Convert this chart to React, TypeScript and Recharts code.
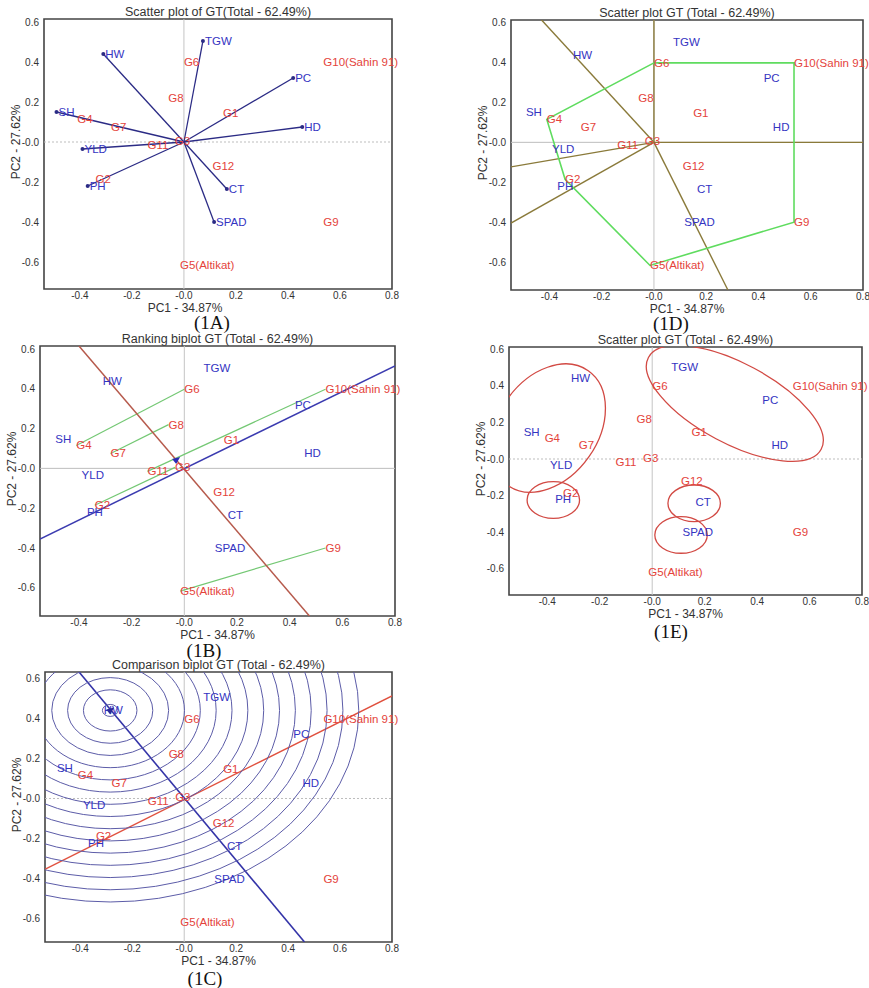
import { ScatterChart, Scatter, XAxis, YAxis, ReferenceLine, ReferenceArea, ReferenceDot } from "recharts";

const FONT = "'Liberation Sans', Arial, sans-serif";

// genotype scores (PC1, PC2)
const genotypes = ["G1", "G2", "G3", "G4", "G5(Altikat)", "G6", "G7", "G8", "G9", "G10(Sahin 91)", "G11", "G12"];
const genoPC1 = [0.15, -0.34, -0.035, -0.41, -0.015, 0.0, -0.28, -0.06, 0.536, 0.536, -0.14, 0.11];
const genoPC2 = [0.145, -0.185, 0.005, 0.115, -0.617, 0.398, 0.075, 0.22, -0.4, 0.398, -0.015, -0.12];

// trait scores (PC1, PC2)
const traits = ["TGW", "HW", "PC", "SH", "HD", "YLD", "PH", "CT", "SPAD"];
const traitPC1 = [0.073, -0.31, 0.42, -0.49, 0.455, -0.39, -0.37, 0.165, 0.116];
const traitPC2 = [0.505, 0.44, 0.32, 0.15, 0.075, -0.035, -0.22, -0.235, -0.4];

const xTicks = [-0.4, -0.2, 0, 0.2, 0.4, 0.6, 0.8];
const yTicks = [-0.6, -0.4, -0.2, 0, 0.2, 0.4, 0.6];

// 1D: polygon vertices and sector ray ends
const hullOrder = ["G6", "G10(Sahin 91)", "G9", "G5(Altikat)", "G2", "G4", "G6"];
const sectorRayX = [0, 0.8, 0.283, -0.547, -0.547, -0.43];
const sectorRayY = [0.613, 0, -0.74, -0.405, -0.123, 0.613];

// 1B: ranking biplot
const rankAxis = [{ x: -0.548, y: -0.355 }, { x: 0.8, y: 0.515 }];
const rankOrdinate = [{ x: -0.4, y: 0.615 }, { x: 0.475, y: -0.742 }];
const rankPairs = [["G4", "G6"], ["G7", "G8"], ["G2", "G3"], ["G11", "G10(Sahin 91)"], ["G5(Altikat)", "G9"]];
const rankArrow = [{ x: -0.031, y: 0.042 }];

// 1C: comparison biplot
const compAxis = [{ x: -0.537, y: -0.354 }, { x: 0.8, y: 0.513 }];
const compOrdinate = [{ x: -0.405, y: 0.632 }, { x: 0.463, y: -0.717 }];
const idealPoint = [{ x: -0.285, y: 0.44 }];
const ringRadii = [0.03, 0.103, 0.164, 0.225, 0.286, 0.347, 0.408, 0.469, 0.53, 0.591, 0.652, 0.713, 0.774, 0.835, 0.896, 0.957];

// 1E: trait groups
const groupX = [-0.397, 0.315, -0.377, 0.16, 0.11];
const groupY = [0.169, 0.304, -0.224, -0.242, -0.415];
const groupA = [0.267, 0.373, 0.1, 0.1, 0.1];
const groupB = [0.273, 0.219, 0.1, 0.1, 0.1];
const groupAngle = [-55, 28, 0, 0, 0];

const RED = "#e4433b";
const BLUE = "#3434c2";
const NAVY = "#2b2b85";

const genoData = genotypes.map((name, i) => ({ name, x: genoPC1[i], y: genoPC2[i] }));
const traitData = traits.map((name, i) => ({ name, x: traitPC1[i], y: traitPC2[i] }));
const geno = (n: string) => genoData.find((g) => g.name === n)!;

type Frame = { l: number; t: number; r: number; b: number; xd: [number, number]; yd: [number, number] };
const frames: Record<string, Frame> = {
  A: { l: 44, t: 19, r: 392, b: 289, xd: [-0.538, 0.8], yd: [-0.735, 0.615] },
  D: { l: 511, t: 20, r: 863, b: 290, xd: [-0.547, 0.8], yd: [-0.74, 0.613] },
  B: { l: 40, t: 346, r: 395, b: 616, xd: [-0.548, 0.8], yd: [-0.742, 0.615] },
  E: { l: 509, t: 347, r: 862, b: 595, xd: [-0.546, 0.8], yd: [-0.743, 0.612] },
  C: { l: 45, t: 672, r: 392, b: 942, xd: [-0.536, 0.8], yd: [-0.717, 0.632] },
};

const ML = 40;
const MT = 20;
const MR = 14;
const XH = 30;

const fmt = (v: number) => (Math.abs(v) < 1e-9 ? "-0.0" : v.toFixed(1));

const labelShape = (color: string, dx = 0, dot = false) => (p: any) => (
  <g>
    {dot && <circle cx={p.cx} cy={p.cy} r={2} fill={NAVY} />}
    <text x={p.cx + dx} y={p.cy} fill={color} fontSize={11.5} fontFamily={FONT} dominantBaseline="central">
      {p.payload.name}
    </text>
  </g>
);

const arrowShape = (color: string) => (p: any) => (
  <polygon points={`${p.cx + 4},${p.cy - 3} ${p.cx - 4},${p.cy - 1} ${p.cx},${p.cy + 4}`} fill={color} />
);

// ellipse clipped to the plot frame of its panel (clip on the unrotated group)
const ellipseShape = (id: string, f: Frame, rx: number, ry: number, angle: number, stroke: string, sw: number) => (p: any) => (
  <g clipPath={`url(#${id})`}>
    <defs>
      <clipPath id={id}>
        <rect x={ML} y={MT} width={f.r - f.l} height={f.b - f.t} />
      </clipPath>
    </defs>
    <ellipse
      cx={p.cx}
      cy={p.cy}
      rx={rx}
      ry={ry}
      transform={`rotate(${angle} ${p.cx} ${p.cy})`}
      fill="none"
      stroke={stroke}
      strokeWidth={sw}
    />
  </g>
);

function labelLayers(traitDx = 0, traitDot = false) {
  return [
    <Scatter key="geno" data={genoData} shape={labelShape(RED)} isAnimationActive={false} />,
    <Scatter key="trait" data={traitData} shape={labelShape(BLUE, traitDx, traitDot)} isAnimationActive={false} />,
  ];
}

function Panel({ f, title, capX, capY, caption, xShift = 0, hDash = true, children }: any) {
  const w = f.r - f.l;
  const h = f.b - f.t;
  const xTitle = (p: any) => {
    const vb = p.viewBox;
    return (
      <text x={vb.x + vb.width / 2 + xShift} y={vb.y + 23} textAnchor="middle" fontSize={12} fill="#333" fontFamily={FONT}>
        PC1 - 34.87%
      </text>
    );
  };
  const yTitle = (p: any) => {
    const vb = p.viewBox;
    const cx = vb.x + vb.width - 28;
    const cy = vb.y + vb.height / 2 - 12;
    return (
      <text x={cx} y={cy} transform={`rotate(-90 ${cx} ${cy})`} textAnchor="middle" dominantBaseline="central" fontSize={12} fill="#333" fontFamily={FONT}>
        PC2 - 27.62%
      </text>
    );
  };
  return (
    <>
      <div style={{ position: "absolute", left: f.l - 40, width: w + 80, top: f.t - 14, textAlign: "center", font: `12.5px ${FONT}`, lineHeight: "14px", color: "#333", whiteSpace: "nowrap" }}>
        {title}
      </div>
      <div style={{ position: "absolute", left: f.l - ML, top: f.t - MT }}>
        <ScatterChart width={w + ML + MR} height={h + MT + XH} margin={{ top: MT, right: MR, bottom: 0, left: 0 }}>
          <XAxis
            type="number"
            dataKey="x"
            domain={f.xd}
            ticks={xTicks}
            height={XH}
            tickFormatter={fmt}
            tick={{ fontSize: 10, fill: "#333", fontFamily: FONT }}
            tickLine={false}
            axisLine={false}
            tickSize={1}
            label={xTitle}
          />
          <YAxis
            type="number"
            dataKey="y"
            domain={f.yd}
            ticks={yTicks}
            width={ML}
            tickFormatter={fmt}
            tick={{ fontSize: 10, fill: "#333", fontFamily: FONT }}
            tickLine={false}
            axisLine={false}
            tickSize={3}
            label={yTitle}
          />
          <ReferenceLine x={0} stroke="#c4c4c4" strokeWidth={1} />
          <ReferenceLine y={0} stroke="#bdbdbd" strokeWidth={1} strokeDasharray={hDash ? "2 2" : undefined} />
          {children}
          <ReferenceArea x1={f.xd[0]} x2={f.xd[1]} y1={f.yd[0]} y2={f.yd[1]} fill="none" fillOpacity={0} stroke="#444" strokeWidth={1.6} ifOverflow="visible" />
        </ScatterChart>
      </div>
      <div style={{ position: "absolute", left: capX - 40, width: 80, top: capY - 10, textAlign: "center", font: "19px 'Liberation Serif', 'Times New Roman', serif", lineHeight: "22px", color: "#111" }}>
        {caption}
      </div>
    </>
  );
}

export default function App() {
  const fA = frames.A;
  const fD = frames.D;
  const fB = frames.B;
  const fE = frames.E;
  const fC = frames.C;
  const kxE = (fE.r - fE.l) / (fE.xd[1] - fE.xd[0]);
  const kyE = (fE.b - fE.t) / (fE.yd[1] - fE.yd[0]);
  const kxC = (fC.r - fC.l) / (fC.xd[1] - fC.xd[0]);
  const kyC = (fC.b - fC.t) / (fC.yd[1] - fC.yd[0]);

  const vectors = traitData.map((t) => (
    <ReferenceLine key={"v" + t.name} segment={[{ x: 0, y: 0 }, { x: t.x, y: t.y }]} stroke={NAVY} strokeWidth={1.3} ifOverflow="hidden" />
  ));

  const rays = sectorRayX.map((x, i) => (
    <ReferenceLine key={"r" + i} segment={[{ x: 0, y: 0 }, { x, y: sectorRayY[i] }]} stroke="#8a7a3a" strokeWidth={1.4} ifOverflow="hidden" />
  ));

  const pairs = rankPairs.map(([a, b], i) => (
    <ReferenceLine key={"p" + i} segment={[{ x: geno(a).x, y: geno(a).y }, { x: geno(b).x, y: geno(b).y }]} stroke="#74c874" strokeWidth={1.2} ifOverflow="hidden" />
  ));

  const groups = groupX.map((x, i) => (
    <ReferenceDot
      key={"e" + i}
      x={x}
      y={groupY[i]}
      ifOverflow="visible"
      shape={ellipseShape("clipE" + i, fE, groupA[i] * kxE, groupB[i] * kyE, groupAngle[i], "#d24a44", 1.3)}
    />
  ));

  const rings = ringRadii.map((r, i) => (
    <ReferenceDot
      key={"c" + i}
      x={idealPoint[0].x}
      y={idealPoint[0].y}
      ifOverflow="visible"
      shape={ellipseShape("clipC" + i, fC, r * kxC, r * kyC, 0, "#5c5ca8", 1)}
    />
  ));

  return (
    <div style={{ position: "absolute", left: 0, top: 0, width: 869, height: 988, background: "#fff" }}>
      <Panel f={fA} title="Scatter plot of GT(Total - 62.49%)" caption="(1A)" capX={212} capY={322} xShift={-33}>
        {labelLayers(2, true)}
        {vectors}
      </Panel>

      <Panel f={fD} title="Scatter plot GT (Total - 62.49%)" caption="(1D)" capX={671} capY={323} hDash={false}>
        {rays}
        <Scatter
          data={hullOrder.map(geno)}
          line={{ stroke: "#5fdc5f", strokeWidth: 1.6 }}
          shape={() => <g />}
          isAnimationActive={false}
        />
        {labelLayers()}
      </Panel>

      <Panel f={fB} title="Ranking biplot GT (Total - 62.49%)" caption="(1B)" capX={204} capY={650} hDash={false}>
        {pairs}
        <ReferenceLine segment={rankAxis} stroke="#3b3bb0" strokeWidth={1.5} ifOverflow="hidden" />
        <ReferenceLine segment={rankOrdinate} stroke="#b65a4c" strokeWidth={1.5} ifOverflow="hidden" />
        <Scatter data={rankArrow} shape={arrowShape("#2b2bb5")} isAnimationActive={false} />
        {labelLayers()}
      </Panel>

      <Panel f={fE} title="Scatter plot GT (Total - 62.49%)" caption="(1E)" capX={671} capY={631}>
        {groups}
        {labelLayers()}
      </Panel>

      <Panel f={fC} title="Comparison biplot GT (Total - 62.49%)" caption="(1C)" capX={205} capY={978}>
        {rings}
        <ReferenceLine segment={compAxis} stroke="#e0503e" strokeWidth={1.5} ifOverflow="hidden" />
        <ReferenceLine segment={compOrdinate} stroke="#3434a8" strokeWidth={1.6} ifOverflow="hidden" />
        {labelLayers()}
        <Scatter data={idealPoint} shape={arrowShape("#2b2b9a")} isAnimationActive={false} />
      </Panel>
    </div>
  );
}
